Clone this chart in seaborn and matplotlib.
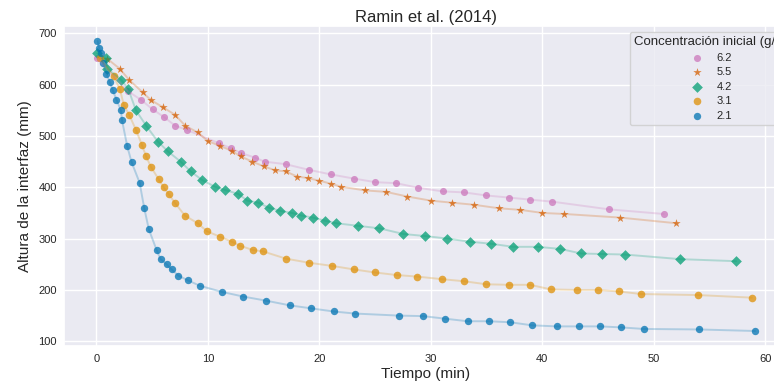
import matplotlib
matplotlib.use('Agg')
import matplotlib.pyplot as plt
import seaborn as sns
import pandas as pd

# Data
###############################################################################

t_21 = [0.1, 0.25, 0.4, 0.6, 0.9, 1.2, 1.45, 1.8, 2.2, 2.3, 2.77, 3.16, 3.88,
        4.3, 4.71, 5.4, 5.76, 6.3, 6.75, 7.35, 8.18, 9.3, 11.3, 13.2, 15.25,
        17.35, 19.3, 21.3, 23.2, 27.15, 29.3, 31.3, 33.3, 35.2, 37.15, 39.1,
        41.3, 43.3, 45.2, 47.1, 49.1, 54.1, 59.1]
h_21 = [685, 671, 661, 642, 621, 605, 590, 571, 550, 531, 480, 449, 409,
        359, 318, 278, 260, 250, 240, 228, 219, 208, 196, 187, 179,
        170, 164, 158, 154, 150, 149, 144, 139, 139, 137, 131,
        129, 129, 129, 127, 124, 123, 120]

t_31 = [0.3, 1.57, 2.11, 2.47, 2.95, 3.57, 4.08, 4.47, 4.89, 5.58, 6.03, 6.48,
        7.07, 7.94, 9.08, 9.95, 11.06, 12.16, 12.9, 14.02, 14.97, 17.0, 19.07,
        21.1, 23.1, 25.0, 26.95, 28.8, 31.0, 32.96, 35.0, 37.0, 38.9, 40.8,
        43.1, 45.0, 46.9, 48.9, 54.0, 58.8]
h_31 = [652, 616, 591, 560, 541, 511, 483, 460, 440, 416, 400, 387,
        369, 345, 330, 314, 304, 294, 286, 278, 275, 261, 253,
        247, 240, 234, 229, 226, 221, 217, 211, 210, 210, 201,
        200, 200, 197, 192, 190, 185]

t_42 = [0.05, 0.85, 1.0, 2.25, 2.87, 3.55, 4.47, 5.52, 6.42, 7.56, 8.46, 9.5,
        10.64, 11.5, 12.73, 13.54, 14.53, 15.5, 16.5, 17.55, 18.4, 19.4, 20.5,
        21.5, 23.45, 25.4, 27.55, 29.5, 31.5, 33.5, 35.4, 37.4, 39.6, 41.6,
        43.5, 45.4, 47.4, 52.4, 57.4]
h_42 = [661, 651, 631, 609, 591, 550, 520, 489, 470, 450, 431, 414,
        401, 395, 387, 374, 370, 360, 354, 350, 345, 341, 335,
        330, 325, 320, 309, 305, 300, 294, 290, 284, 284, 280,
        271, 270, 269, 260, 256]

t_55 = [1.0, 2.1, 2.95, 4.15, 4.89, 5.97, 7.07, 7.97, 9.08, 10.0, 11.06, 12.16,
        12.97, 13.98, 15.0, 16.05, 16.98, 18.0, 18.95, 19.97, 21.05, 21.97,
        24.1, 26.0, 27.9, 30.0, 31.9, 33.86, 36.16, 38.04, 40.02, 42.0, 46.97,
        52.0]
h_55 = [650, 631, 609, 585, 570, 556, 541, 520, 507, 490, 481, 471,
        460, 450, 441, 433, 431, 421, 418, 413, 407, 401,
        394, 391, 382, 374, 370, 366, 359, 356, 350, 348, 341,
        330]

t_62 = [0.07, 2.85, 4.03, 5.04, 6.06, 7.07, 8.1, 10.97, 12.1, 12.94, 14.2,
        15.1, 16.98, 19.07, 21.05, 23.1, 25.03, 26.9, 28.88, 31.1, 33.0, 35.0,
        37.0, 38.9, 40.9, 46.0, 50.9]
h_62 = [651, 587, 570, 552, 537, 520, 512, 486, 476, 467, 458,
        450, 445, 434, 425, 417, 410, 408, 399, 392, 390, 384,
        380, 376, 372, 357, 348]

conc_labels = ['6.2', '5.5', '4.2', '3.1', '2.1']
series = {'6.2': (t_62, h_62), '5.5': (t_55, h_55), '4.2': (t_42, h_42),
          '3.1': (t_31, h_31), '2.1': (t_21, h_21)}

rows = []
for c in conc_labels:
    for t, h in zip(*series[c]):
        rows.append((c, t, h))
df = pd.DataFrame(rows, columns=['Concentración inicial (g/l)',
                                 'Tiempo (min)', 'Altura de la interfaz (mm)'])

# Styling
###############################################################################

sns.set_theme(style='darkgrid')
plt.rcParams['font.family'] = ['Liberation Sans', 'DejaVu Sans']
pal = sns.color_palette('colorblind')
colors = {'6.2': pal[4], '5.5': pal[3], '4.2': pal[2], '3.1': pal[1], '2.1': pal[0]}
markers = {'6.2': 'o', '5.5': '*', '4.2': 'D', '3.1': 'o', '2.1': 'o'}
sizes = {'6.2': 26, '5.5': 40, '4.2': 30, '3.1': 30, '2.1': 28}

x = 'Tiempo (min)'
y = 'Altura de la interfaz (mm)'
hue = 'Concentración inicial (g/l)'

fig, ax = plt.subplots(figsize=(7.74, 3.86), dpi=100)
# the original plot area runs a little past the right edge of the image
ax.set_position([64/774, 1-345.5/386, (788-64)/774, (345.5-26.5)/386])

sns.lineplot(data=df, x=x, y=y, hue=hue, hue_order=conc_labels,
             palette=colors, estimator=None, alpha=0.25, linewidth=1.4,
             legend=False, ax=ax)

for c in conc_labels:
    sub = df[df[hue] == c]
    sns.scatterplot(data=sub, x=x, y=y, color=colors[c], marker=markers[c],
                    s=sizes[c], alpha=0.75, linewidth=0, label=c, ax=ax)

ax.set_title('Ramin et al. (2014)', fontsize=12, pad=3.5)
ax.set_xlabel(x, fontsize=11, labelpad=2.5)
ax.set_ylabel(y, fontsize=11, labelpad=5)
ax.tick_params(axis='x', labelsize=8, length=0, pad=6)
ax.tick_params(axis='y', labelsize=8, length=0, pad=5)

leg = ax.legend(title=hue, loc='upper left', fontsize=8, title_fontsize=9.5,
                bbox_to_anchor=(630/774, 1-32/386), labelspacing=0.4,
                bbox_transform=fig.transFigure, borderaxespad=0)
leg.set_alignment('center')

plt.savefig('out.png', dpi=100)
